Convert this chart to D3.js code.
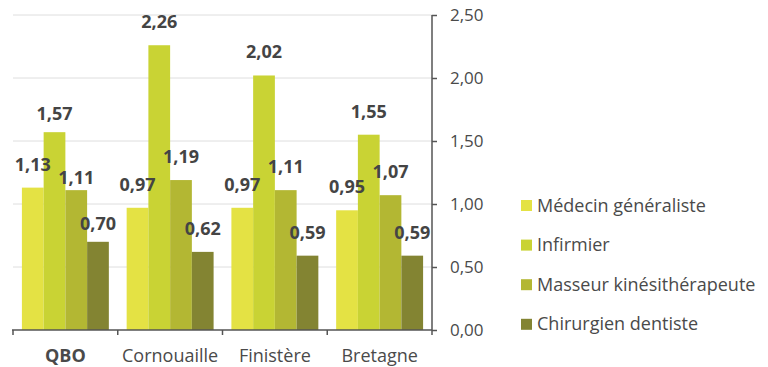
<!DOCTYPE html>
<html>
<head>
<meta charset="utf-8">
<script src="https://cdn.jsdelivr.net/npm/d3@7"></script>
<style>
  body { margin: 0; background: #fff; }
  text { font-family: "Open Sans", sans-serif; }
</style>
</head>
<body>
<div id="chart"></div>
<script>
// donnees
var categories = ["QBO", "Cornouaille", "Finistère", "Bretagne"];
var series = ["Médecin généraliste", "Infirmier", "Masseur kinésithérapeute", "Chirurgien dentiste"];
var medecin = [1.13, 0.97, 0.97, 0.95];
var infirmier = [1.57, 2.26, 2.02, 1.55];
var masseur = [1.11, 1.19, 1.11, 1.07];
var dentiste = [0.70, 0.62, 0.59, 0.59];
var yTicks = [0, 0.5, 1, 1.5, 2, 2.5];

var values = [medecin, infirmier, masseur, dentiste];
var colors = ["#e4e244", "#c9d334", "#b3b733", "#838432"];

var width = 768, height = 367;
var fmt = function(v) { return d3.format(".2f")(v).replace(".", ","); };

var svg = d3.select("#chart").append("svg")
  .attr("width", width)
  .attr("height", height);

var x0 = d3.scaleBand()
  .domain(categories)
  .range([13, 432])
  .paddingInner(0.17)
  .paddingOuter(0.085);

var band = d3.scaleBand()
  .domain(categories)
  .range([13, 432]);

var x1 = d3.scaleBand()
  .domain(d3.range(series.length))
  .range([0, x0.bandwidth()]);

var y = d3.scaleLinear()
  .domain([0, 2.5])
  .range([330, 15]);

// grille
svg.append("g").selectAll("line")
  .data(yTicks.slice(1))
  .enter().append("line")
    .attr("x1", 13)
    .attr("x2", 432)
    .attr("y1", function(d) { return y(d); })
    .attr("y2", function(d) { return y(d); })
    .attr("stroke", "#dedede")
    .attr("stroke-width", 1);

// barres
var rows = [];
categories.forEach(function(c, i) {
  series.forEach(function(s, j) {
    rows.push({cat: c, s: j, v: values[j][i]});
  });
});

svg.append("g").selectAll("rect")
  .data(rows)
  .enter().append("rect")
    .attr("x", function(d) { return x0(d.cat) + x1(d.s); })
    .attr("y", function(d) { return y(d.v); })
    .attr("width", x1.bandwidth())
    .attr("height", function(d) { return y(0) - y(d.v); })
    .attr("fill", function(d) { return colors[d.s]; });

// petits decalages des etiquettes du groupe QBO
var nudge = {"QBO|1": 5, "QBO|2": 11, "QBO|3": 5};

svg.append("g").selectAll("text")
  .data(rows)
  .enter().append("text")
    .attr("x", function(d) { return x0(d.cat) + x1(d.s) + x1.bandwidth() / 2; })
    .attr("y", function(d) { return y(d.v) - 17 + (nudge[d.cat + "|" + d.s] || 0); })
    .attr("text-anchor", "middle")
    .attr("font-size", 18)
    .attr("font-weight", 700)
    .attr("fill", "#444")
    .text(function(d) { return fmt(d.v); });

// axe droit
var yAxis = svg.append("g")
  .attr("transform", "translate(432,0)")
  .call(d3.axisRight(y).tickValues(yTicks).tickFormat(fmt).tickSize(5).tickPadding(13));
yAxis.select(".domain").attr("stroke", "#555").attr("stroke-width", 1.5)
  .attr("d", "M0," + y(2.5) + "V" + (y(0) + 5));
yAxis.selectAll(".tick line").attr("stroke", "#555").attr("stroke-width", 1.5);
yAxis.selectAll("text")
  .attr("font-family", "Open Sans, sans-serif")
  .attr("font-size", 17)
  .attr("fill", "#4a4a4a");

// axe du bas
svg.append("line")
  .attr("x1", 12).attr("x2", 432)
  .attr("y1", y(0)).attr("y2", y(0))
  .attr("stroke", "#555").attr("stroke-width", 1.5);

svg.append("g").selectAll("line")
  .data(categories)
  .enter().append("line")
    .attr("x1", function(d) { return band(d); })
    .attr("x2", function(d) { return band(d); })
    .attr("y1", y(0))
    .attr("y2", y(0) + 5)
    .attr("stroke", "#555").attr("stroke-width", 1.5);

svg.append("g").selectAll("text")
  .data(categories)
  .enter().append("text")
    .attr("x", function(d) { return band(d) + band.bandwidth() / 2; })
    .attr("y", 362)
    .attr("text-anchor", "middle")
    .attr("font-size", 18)
    .attr("font-weight", function(d, i) { return i == 0 ? 700 : 400; })
    .attr("fill", "#4a4a4a")
    .text(function(d) { return d; });

// legende
var legend = svg.append("g").selectAll("g")
  .data(series)
  .enter().append("g")
    .attr("transform", function(d, i) { return "translate(521," + (200 + i * 39.6) + ")"; });

legend.append("rect")
  .attr("width", 11)
  .attr("height", 11)
  .attr("fill", function(d, i) { return colors[i]; });

legend.append("text")
  .attr("x", 16)
  .attr("y", 11.5)
  .attr("font-size", 18)
  .attr("fill", "#4a4a4a")
  .text(function(d) { return d; });
</script>
</body>
</html>
